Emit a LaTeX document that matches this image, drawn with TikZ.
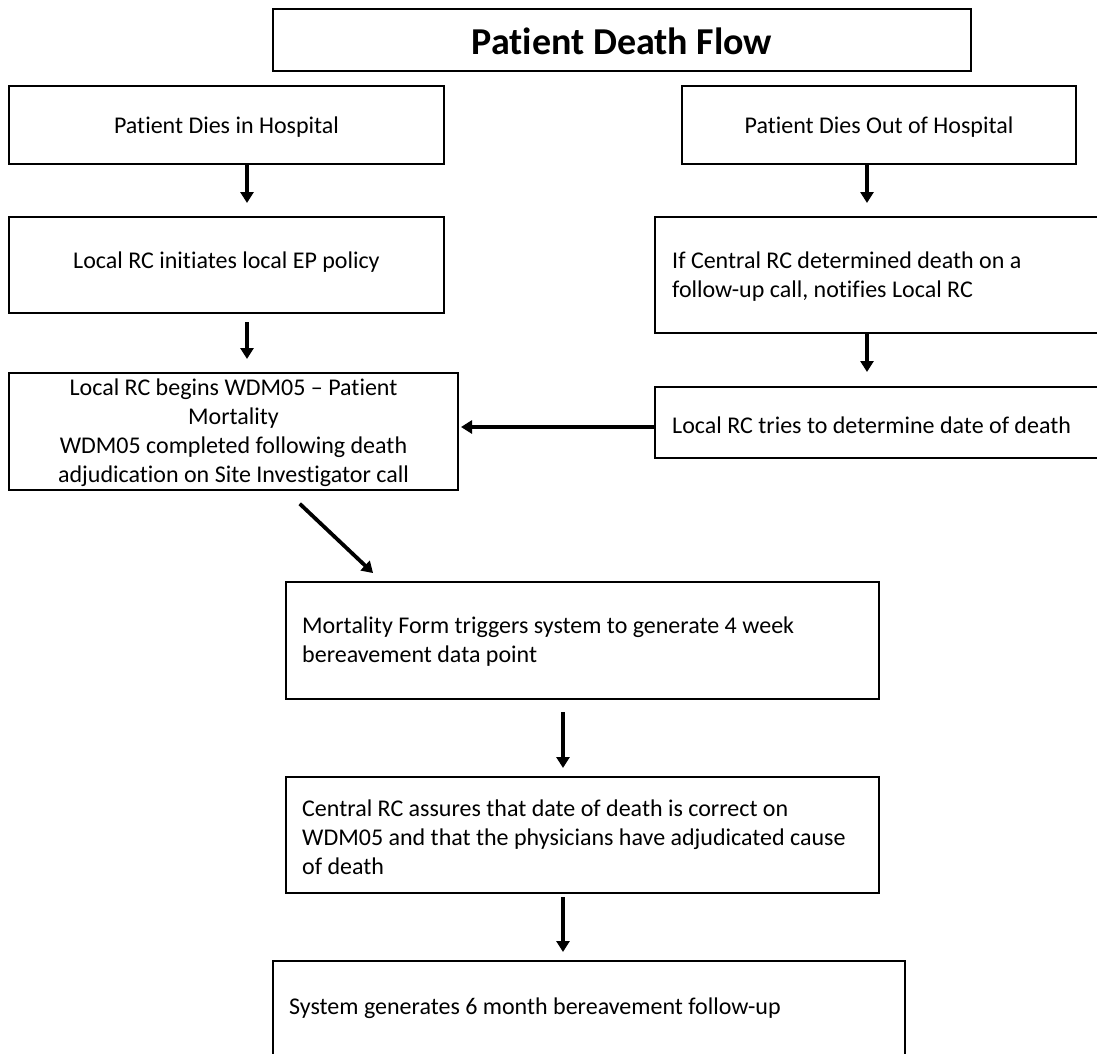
\documentclass[tikz,border=0pt]{standalone}
\usepackage{fontspec}
\setmainfont{Carlito}[RawFeature=-liga]
\usetikzlibrary{arrows.meta}

\tikzset{
  box/.style={draw=black, line width=1.1pt, rectangle, inner sep=0pt, outer sep=0pt},
  boxtext/.style={inner sep=0pt, font=\fontsize{24}{29}\selectfont},
  titletext/.style={inner sep=0pt, font=\fontsize{38}{46}\selectfont\bfseries},
  flow/.style={line width=3.8pt, -{Triangle[length=11pt,width=13pt]}},
}

\begin{document}
\begin{tikzpicture}[x=1pt, y=-1pt]
  \useasboundingbox (0,0) rectangle (1097,1054);

  % boxes
  \node[box, minimum width=698pt, minimum height=62pt] (title) at (622,40) {};
  \node[box, minimum width=435pt, minimum height=78pt] (A) at (226.5,125) {};
  \node[box, minimum width=394pt, minimum height=78pt] (B) at (879,125) {};
  \node[box, minimum width=435pt, minimum height=96pt] (C) at (226.5,265) {};
  \node[box, minimum width=448pt, minimum height=116pt] (D) at (879,275) {};
  \node[box, minimum width=449pt, minimum height=117pt] (E) at (233.5,431.5) {};
  \node[box, minimum width=448pt, minimum height=71pt] (F) at (879,422.5) {};
  \node[box, minimum width=593pt, minimum height=117pt] (G) at (582.5,640.5) {};
  \node[box, minimum width=593pt, minimum height=116pt] (H) at (582.5,835) {};
  \node[box, minimum width=632pt, minimum height=97pt] (I) at (589,1009.5) {};

  % texts
  \node[titletext] (ttitle) at (622,41) {Patient Death Flow};
  \node[boxtext] (tA) at (226.5,127) {Patient Dies in Hospital};
  \node[boxtext] (tB) at (879,127) {Patient Dies Out of Hospital};
  \node[boxtext] (tC) at (226.5,262) {Local RC initiates local EP policy};
  \node[boxtext, anchor=west, align=left] (tD) at (672,277) {If Central RC determined death on a\\follow-up call, notifies Local RC};
  \node[boxtext, align=center] (tE) at (233.5,433) {Local RC begins WDM05 – Patient\\Mortality\\WDM05 completed following death\\adjudication on Site Investigator call};
  \node[boxtext, anchor=west] (tF) at (672,425) {Local RC tries to determine date of death};
  \node[boxtext, anchor=west, align=left] (tG) at (302,642) {Mortality Form triggers system to generate 4 week\\bereavement data point};
  \node[boxtext, anchor=west, align=left] (tH) at (302,837) {Central RC assures that date of death is correct on\\WDM05 and that the physicians have adjudicated cause\\of death};
  \node[boxtext, anchor=west] (tI) at (289,1008) {System generates 6 month bereavement follow-up};

  % connectors
  \draw[flow, shorten >=14pt] ([xshift=20.5pt]A.south) -- ([xshift=20.5pt]C.north);
  \draw[flow, shorten <=9pt, shorten >=14pt] ([xshift=20.5pt]C.south) -- ([xshift=13.5pt]E.north);
  \draw[flow, shorten >=14pt] ([xshift=-12pt]B.south) -- ([xshift=-12pt]D.north);
  \draw[flow, shorten >=15pt] ([xshift=-12pt]D.south) -- ([xshift=-12pt]F.north);
  \draw[flow, shorten >=3pt] ([yshift=-4.5pt]F.west) -- ([yshift=4.5pt]E.east);
  \draw[flow, shorten <=20pt, shorten >=13pt] ([xshift=51.7pt]E.south) -- ([xshift=-200pt]G.north);
  \draw[flow, shorten <=13pt, shorten >=9pt] ([xshift=-19.5pt]G.south) -- ([xshift=-19.5pt]H.north);
  \draw[flow, shorten <=4pt, shorten >=9pt] ([xshift=-19.5pt]H.south) -- ([xshift=-26pt]I.north);
\end{tikzpicture}
\end{document}
